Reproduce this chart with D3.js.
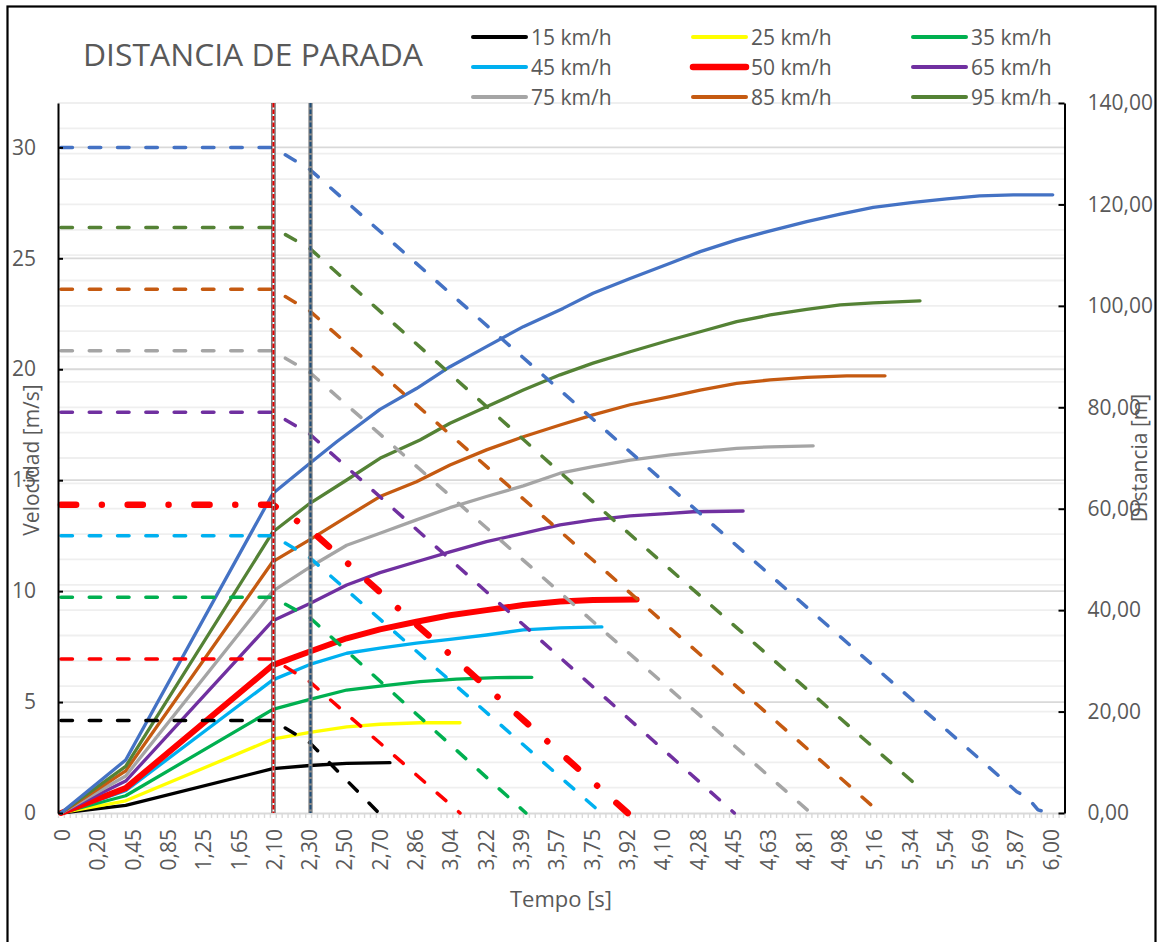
<!DOCTYPE html>
<html><head><meta charset="utf-8">
<script src="https://cdn.jsdelivr.net/npm/d3@7"></script>
<style>
body{margin:0;background:#fff}
text{font-family:"Open Sans","Noto Sans",sans-serif;fill:#595959}
</style>
</head><body>
<svg id="chart" width="1160" height="942"></svg>
<script>
// ---------- DATA ----------
const chartTitle = "DISTANCIA DE PARADA";
const xTitle = "Tempo [s]";
const yLeftTitle = "Velocidad [m/s]";
const yRightTitle = "Distancia [m]";
const categoryCount = 171;
const xTickLabels = ["0","0,20","0,45","0,85","1,25","1,65","2,10","2,30","2,50","2,70","2,86","3,04","3,22","3,39","3,57","3,75","3,92","4,10","4,28","4,45","4,63","4,81","4,98","5,16","5,34","5,54","5,69","5,87","6,00"];
const leftTicks = [0,5,10,15,20,25,30];
const rightTicks = [0,20,40,60,80,100,120,140];
const seriesNames = ["15 km/h","25 km/h","35 km/h","45 km/h","50 km/h","65 km/h","75 km/h","85 km/h","95 km/h","108 km/h"];

// distance series [category index, metres] (right axis)
const dist15 = [[0,0],[11,1.5],[36,8.75],[42.3,9.37],[48.55,9.8],[55.9,9.92]];
const dist25 = [[0,0],[11,2.4],[36,14.58],[42.3,15.9],[48.55,17.0],[54.2,17.5],[61,17.8],[67.8,17.8]];
const dist35 = [[0,0],[11,3.4],[36,20.42],[42.3,22.4],[48.55,24.25],[54.2,25.0],[61,25.9],[67.2,26.4],[74,26.7],[80,26.75]];
const dist45 = [[0,0],[11,4.4],[36,26.25],[42.3,29.3],[48.55,31.5],[54.2,32.5],[60.4,33.5],[66.1,34.25],[72.3,35.1],[78.55,36.1],[84.8,36.5],[91.9,36.7]];
const dist50 = [[0,0],[11,4.9],[36,29.17],[42.3,31.85],[48.55,34.45],[54.2,36.2],[60.4,37.7],[66.1,39.0],[72.3,40.0],[78.55,41.0],[84.8,41.7],[90.4,42.0],[97.8,42.1]];
const dist65 = [[0,0],[11,6.3],[36,37.92],[42.3,41.3],[48.55,44.96],[54.2,47.4],[60.4,49.55],[66.1,51.5],[72.3,53.5],[78.55,55.15],[84.8,56.8],[90.4,57.8],[96.7,58.6],[103.5,59.1],[107.4,59.4],[115.9,59.55]];
const dist75 = [[0,0],[11,7.3],[36,43.75],[42.3,48.5],[48.55,52.8],[54.2,55.15],[60.4,57.8],[66.1,60.2],[72.3,62.4],[78.55,64.5],[84.8,67.0],[90.4,68.3],[96.7,69.6],[103.5,70.6],[108.6,71.2],[114.8,71.9],[120.5,72.2],[127.8,72.4]];
const dist85 = [[0,0],[11,8.3],[36,49.58],[42.3,53.9],[48.55,58.4],[54.2,62.4],[60.4,65.3],[66.1,68.6],[72.3,71.6],[78.55,74.2],[84.8,76.5],[90.4,78.5],[96.7,80.5],[103.5,82.1],[108.6,83.4],[114.8,84.7],[120.5,85.4],[126.7,85.9],[133.5,86.2],[140,86.2]];
const dist95 = [[0,0],[11,9.2],[36,55.42],[42.3,61.07],[48.55,65.66],[54.2,69.94],[61,73.55],[66.1,76.84],[72.3,80.1],[78.55,83.4],[84.8,86.4],[90.4,88.7],[96.7,90.96],[103.5,93.27],[108.6,94.9],[114.8,96.9],[120.5,98.2],[126.7,99.3],[132.4,100.2],[138,100.6],[145.95,101.0]];
const dist108 = [[0,0],[11,10.45],[36,63],[42.3,68.96],[46.85,73.2],[54.2,79.6],[60.4,83.7],[66.1,88.0],[72.3,91.96],[78.55,95.9],[85.3,99.5],[90.4,102.5],[96.7,105.4],[103.5,108.4],[108.6,110.7],[114.8,113.0],[120.5,114.8],[126.7,116.6],[132.4,118.1],[138,119.4],[144.8,120.4],[150.5,121.1],[156.1,121.7],[161.8,121.9],[168.5,121.9]];

// velocity series [category index, m/s] (left axis)
const vel15 = [[0,4.17],[36,4.17],[42.3,3.16],[54,0]];
const vel25 = [[0,6.94],[36,6.94],[42.3,5.91],[67.8,0]];
const vel35 = [[0,9.72],[36,9.72],[42.3,8.80],[79,0]];
const vel45 = [[0,12.5],[36,12.5],[42.3,11.5],[91.8,0]];
const vel50 = [[0,13.89],[36,13.89],[42.3,12.77],[96.3,0]];
const vel65 = [[0,18.06],[36,18.06],[42.3,17.07],[114.4,0]];
const vel75 = [[0,20.83],[36,20.83],[42.3,19.85],[127.4,0]];
const vel85 = [[0,23.61],[36,23.61],[42.3,22.62],[139.2,0]];
const vel95 = [[0,26.39],[36,26.39],[42.3,25.44],[92.2,13.6],[145.9,1.13]];
const vel108 = [[0,30],[36,30],[42.3,29.0],[103,14.8],[162.4,0.96],[164.3,0.68],[166,0.14],[168,0]];

const reactionMarkers = [36.1, 42.4];

const distanceSeries = [dist15,dist25,dist35,dist45,dist50,dist65,dist75,dist85,dist95,dist108];
const velocitySeries = [vel15,vel25,vel35,vel45,vel50,vel65,vel75,vel85,vel95,vel108];

// ---------- STYLE ----------
const distColors = ["#000000","#ffff00","#00b050","#00b0f0","#ff0000","#7030a0","#a5a5a5","#c55a11","#548235","#4472c4"];
const velColors  = ["#000000","#ff0000","#00b050","#00b0f0","#ff0000","#7030a0","#a5a5a5","#c55a11","#548235","#4472c4"];

const svg = d3.select("#chart");
const L = 58, R = 1064.5, T = 103, B = 813;

const x = d3.scaleLinear().domain([-0.5, categoryCount - 0.5]).range([L, R]);
const yL = d3.scaleLinear().domain([0, 32]).range([B, T]);
const yR = d3.scaleLinear().domain([0, 140]).range([B, T]);

// outer border
svg.append("rect").attr("x",7.5).attr("y",6.5).attr("width",1148).attr("height",950)
  .attr("fill","#fff").attr("stroke","#000").attr("stroke-width",2.2);

// gridlines right (every 5)
const gridR = d3.range(5, 141, 5);
svg.append("g").selectAll("line").data(gridR).join("line")
  .attr("x1",L).attr("x2",R).attr("y1",d=>yR(d)).attr("y2",d=>yR(d))
  .attr("stroke","#efefef").attr("stroke-width",1.8);
// gridlines left major
svg.append("g").selectAll("line").data(leftTicks.filter(d=>d>0)).join("line")
  .attr("x1",L).attr("x2",R).attr("y1",d=>yL(d)).attr("y2",d=>yL(d))
  .attr("stroke","#d9d9d9").attr("stroke-width",1.8);

// x axis (category ticks)
const xAxis = d3.axisBottom(x)
  .tickValues(d3.range(-0.5, categoryCount, 1))
  .tickFormat("").tickSize(5).tickSizeOuter(0);
const gx = svg.append("g").attr("transform",`translate(0,${B})`).call(xAxis);
gx.select(".domain").attr("stroke","#d9d9d9").attr("stroke-width",1.8);
gx.selectAll(".tick line").attr("stroke","#d9d9d9").attr("stroke-width",1.4);

svg.append("g").selectAll("text").data(xTickLabels).join("text")
  .attr("transform",(d,i)=>`translate(${x(i*6)+1},829) rotate(-90)`)
  .attr("text-anchor","end").attr("dominant-baseline","central")
  .style("font-size","21px").text(d=>d);

// distance lines (solid)
const lineD = d3.line().x(d=>x(d[0])).y(d=>yR(d[1]));
svg.append("g").selectAll("path").data(distanceSeries).join("path")
  .attr("d",lineD).attr("fill","none")
  .attr("stroke",(d,i)=>distColors[i])
  .attr("stroke-width",(d,i)=> i===4 ? 6 : 3.3)
  .attr("stroke-linejoin","round").attr("stroke-linecap","round");

// velocity lines (dashed)
const lineV = d3.line().x(d=>x(d[0])).y(d=>yL(d[1]));
svg.append("g").selectAll("path").data(velocitySeries).join("path")
  .attr("d",lineV).attr("fill","none")
  .attr("stroke",(d,i)=>velColors[i])
  .attr("stroke-width",(d,i)=> i===4 ? 6.5 : 3.5)
  .attr("stroke-dasharray",(d,i)=> i===4 ? "15.2,25.7,0.01,25.8" : "11.5,16.8")
  .attr("stroke-linejoin","round").attr("stroke-linecap","round");

// reaction time markers
const mk = svg.append("g");
[[reactionMarkers[0],"#3a3a3a","#ffffff","#e00000"],[reactionMarkers[1],"#7f7f7f","#8a8a8a","#1f4e79"]].forEach(([v,outer,inner,dash])=>{
  const xv = x(v);
  mk.append("line").attr("x1",xv).attr("x2",xv).attr("y1",T).attr("y2",B).attr("stroke",outer).attr("stroke-width",4.2);
  mk.append("line").attr("x1",xv).attr("x2",xv).attr("y1",T).attr("y2",B).attr("stroke",inner).attr("stroke-width",2);
  mk.append("line").attr("x1",xv).attr("x2",xv).attr("y1",T).attr("y2",B).attr("stroke",dash).attr("stroke-width",2).attr("stroke-dasharray","4.5,2");
});

// left axis
const gl = svg.append("g").attr("transform",`translate(${L},0)`)
  .call(d3.axisLeft(yL).tickValues(leftTicks).tickSizeInner(-5).tickSizeOuter(0).tickPadding(22).tickFormat(d=>d));
gl.select(".domain").attr("stroke","#000").attr("stroke-width",2);
gl.selectAll(".tick line").attr("stroke","#000").attr("stroke-width",2);
gl.selectAll("text").style("font-size","21px").attr("fill","#595959").style("font-family",'"Open Sans",sans-serif');

// right axis
const gr = svg.append("g").attr("transform",`translate(${R},0)`)
  .call(d3.axisRight(yR).tickValues(rightTicks).tickSizeInner(-6).tickSizeOuter(0).tickPadding(23)
    .tickFormat(d=>d.toFixed(2).replace(".",",")));
gr.select(".domain").attr("stroke","#000").attr("stroke-width",2);
gr.selectAll(".tick line").attr("stroke","#000").attr("stroke-width",2);
gr.selectAll("text").style("font-size","21px").attr("fill","#595959").style("font-family",'"Open Sans",sans-serif');

// title
svg.append("text").attr("x",83).attr("y",66).style("font-size","31px")
  .attr("textLength",340).attr("lengthAdjust","spacingAndGlyphs").text(chartTitle);

// axis titles
svg.append("text").attr("transform","translate(31,460) rotate(-90)").attr("text-anchor","middle")
  .attr("dominant-baseline","central").style("font-size","21px").text(yLeftTitle);
svg.append("text").attr("transform","translate(1139,458) rotate(-90)").attr("text-anchor","middle")
  .attr("dominant-baseline","central").style("font-size","21px").text(yRightTitle);
svg.append("text").attr("x",561).attr("y",898).attr("text-anchor","middle")
  .attr("dominant-baseline","central").style("font-size","22px").text(xTitle);

// legend (9 entries, 3 columns)
const legX = [473, 693, 913], legY = [37, 67, 97];
const lg = svg.append("g");
seriesNames.slice(0,9).forEach((name,i)=>{
  const cx = legX[i%3], cy = legY[Math.floor(i/3)];
  lg.append("line").attr("x1",cx).attr("x2",cx+53).attr("y1",cy).attr("y2",cy)
    .attr("stroke",distColors[i]).attr("stroke-width", i===4 ? 6.5 : 4).attr("stroke-linecap","round");
  lg.append("text").attr("x",cx+58).attr("y",cy).attr("dominant-baseline","central")
    .style("font-size","21px").text(name);
});
</script>
</body></html>
